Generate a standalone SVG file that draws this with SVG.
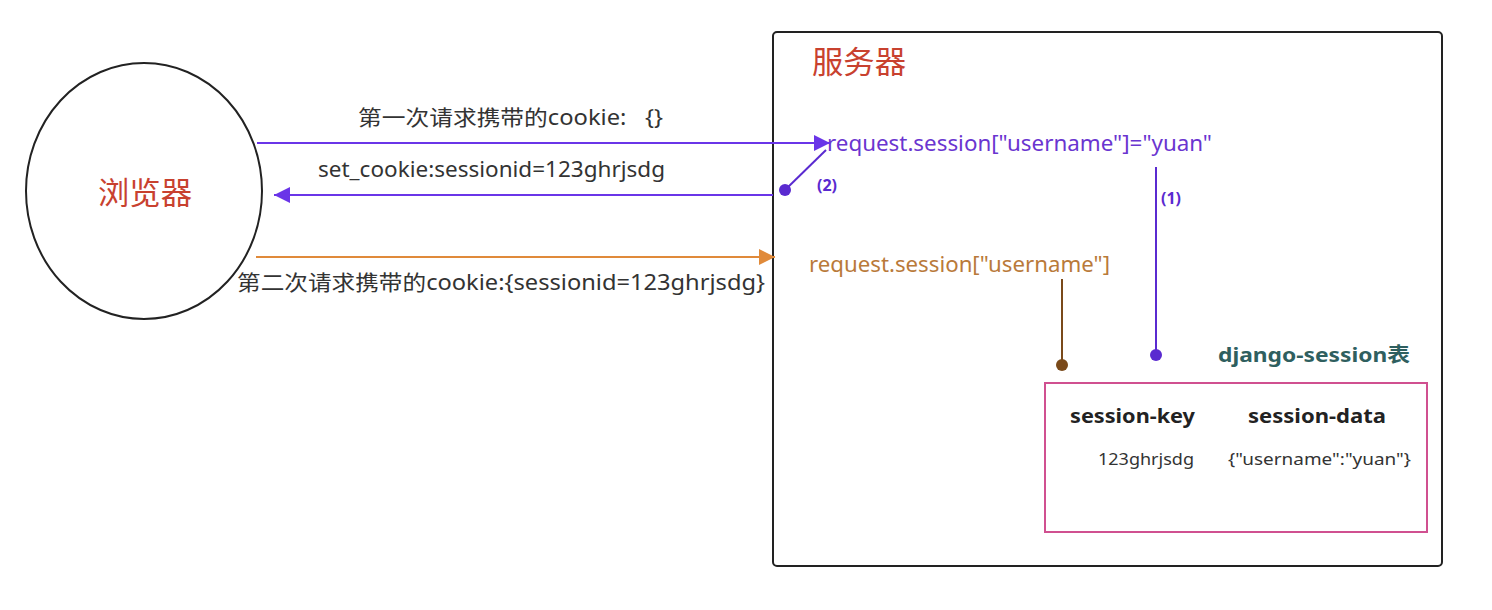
<svg xmlns="http://www.w3.org/2000/svg" width="1492" height="610" viewBox="0 0 1492 610">
<defs>
<style>
text{font-family:"Noto Sans","Noto Sans CJK SC",sans-serif;}
.lbl{font-size:21px;fill:#333;}
.title{font-size:31px;fill:#c8412f;}
.purple{fill:#6a35d0;}
.hdr{font-size:19px;font-weight:bold;fill:#222;}
.cell{font-size:16px;fill:#333;}
</style>
<marker id="ap" viewBox="0 0 10 10" refX="10" refY="5" markerWidth="20" markerHeight="16" markerUnits="userSpaceOnUse" orient="auto"><path d="M0,0L10,5L0,10z" fill="#6a35e8"/></marker>
<marker id="ao" viewBox="0 0 10 10" refX="10" refY="5" markerWidth="20" markerHeight="16" markerUnits="userSpaceOnUse" orient="auto"><path d="M0,0L10,5L0,10z" fill="#e08a3a"/></marker>
</defs>
<rect width="1492" height="610" fill="#fff"/>
<g id="browser">
<ellipse cx="144" cy="191" rx="118" ry="128" fill="#fff" stroke="#222" stroke-width="2"/>
<text x="98" y="204" class="title" textLength="94" lengthAdjust="spacingAndGlyphs">浏览器</text>
</g>
<g id="server">
<rect x="773" y="32" width="669" height="534" rx="4" fill="none" stroke="#222" stroke-width="2"/>
<text x="812" y="73" class="title" textLength="94" lengthAdjust="spacingAndGlyphs">服务器</text>
</g>
<g id="set-request">
<text x="827" y="151" font-size="21" class="purple" textLength="385" lengthAdjust="spacingAndGlyphs">request.session["username"]="yuan"</text>
</g>
<g id="get-request">
<text x="809" y="272" font-size="21" fill="#b97a3a" textLength="301" lengthAdjust="spacingAndGlyphs">request.session["username"]</text>
</g>
<g id="session-table">
<text x="1218" y="362" font-size="20" font-weight="bold" fill="#2f5f5f" textLength="192" lengthAdjust="spacingAndGlyphs">django-session表</text>
<rect x="1045" y="383" width="382" height="149" fill="none" stroke="#d05090" stroke-width="2"/>
<text x="1070" y="423" class="hdr" textLength="125" lengthAdjust="spacingAndGlyphs">session-key</text>
<text x="1248" y="423" class="hdr" textLength="138" lengthAdjust="spacingAndGlyphs">session-data</text>
<text x="1098" y="465" class="cell" textLength="96" lengthAdjust="spacingAndGlyphs">123ghrjsdg</text>
<text x="1228" y="465" class="cell" textLength="183" lengthAdjust="spacingAndGlyphs">{"username":"yuan"}</text>
</g>
<g id="connectors">
<line x1="257" y1="143" x2="830" y2="143" stroke="#6a35e8" stroke-width="2" marker-end="url(#ap)"/>
<text x="358" y="125" class="lbl" xml:space="preserve" textLength="305" lengthAdjust="spacingAndGlyphs">第一次请求携带的cookie:   {}</text>
<line x1="773" y1="195" x2="274" y2="195" stroke="#6a35e8" stroke-width="2" marker-end="url(#ap)"/>
<text x="318" y="177" class="lbl" textLength="347" lengthAdjust="spacingAndGlyphs">set_cookie:sessionid=123ghrjsdg</text>
<line x1="785" y1="190" x2="826" y2="150" stroke="#5a2ad0" stroke-width="2"/>
<circle cx="785" cy="190" r="6" fill="#5a2ad0"/>
<text x="817" y="191" font-size="16" font-weight="bold" fill="#5a2ad0">(2)</text>
<line x1="1156" y1="167" x2="1156" y2="355" stroke="#5a2ad0" stroke-width="2"/>
<circle cx="1156" cy="355" r="6" fill="#5a2ad0"/>
<text x="1161" y="204" font-size="16" font-weight="bold" fill="#5a2ad0">(1)</text>
<line x1="256" y1="257" x2="775" y2="257" stroke="#e08a3a" stroke-width="2" marker-end="url(#ao)"/>
<text x="237" y="290" class="lbl" textLength="528" lengthAdjust="spacingAndGlyphs">第二次请求携带的cookie:{sessionid=123ghrjsdg}</text>
<line x1="1062" y1="279" x2="1062" y2="364" stroke="#7a4a1a" stroke-width="2"/>
<circle cx="1062" cy="365" r="6" fill="#7a4a1a"/>
</g>
</svg>
